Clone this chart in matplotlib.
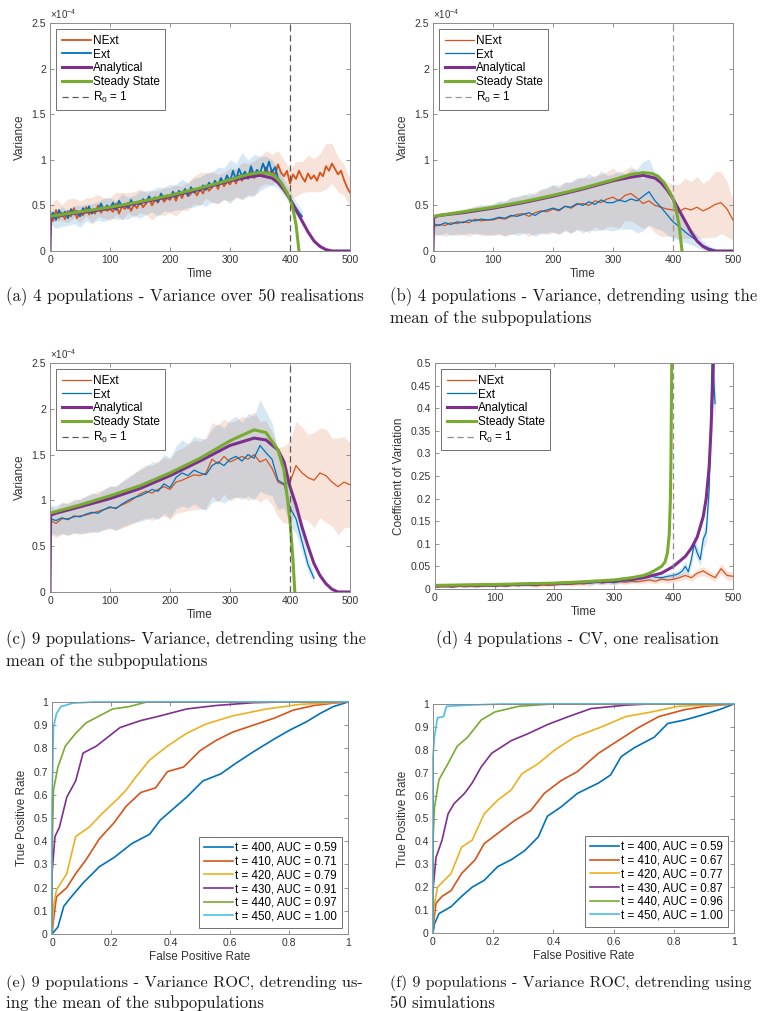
import numpy as np
import matplotlib.pyplot as plt
from matplotlib.ticker import FuncFormatter

plt.rcParams['font.family'] = ['Liberation Sans', 'DejaVu Sans']

# colori stile matlab
c_blu = '#0072BD'
c_ara = '#D95319'
c_gia = '#EDB120'
c_vio = '#7E2F8E'
c_ver = '#77AC30'
c_cia = '#4DBEEE'

# ---------------- dati (a) e (b): 4 popolazioni, varianza in unita' 1e-4 ----------------
t_a_next = np.arange(0, 501, 5)
var_a_next = [0.40, 0.33, 0.45, 0.36, 0.42, 0.35, 0.44, 0.38, 0.47, 0.36,
              0.43, 0.39, 0.48, 0.40, 0.45, 0.41, 0.50, 0.42, 0.47, 0.44,
              0.46, 0.43, 0.52, 0.41, 0.49, 0.46, 0.53, 0.44, 0.51, 0.47,
              0.55, 0.48, 0.52, 0.58, 0.50, 0.56, 0.53, 0.60, 0.54, 0.58,
              0.56, 0.62, 0.55, 0.64, 0.58, 0.66, 0.60, 0.63, 0.67, 0.61,
              0.68, 0.63, 0.72, 0.66, 0.70, 0.75, 0.68, 0.78, 0.71, 0.76,
              0.73, 0.80, 0.74, 0.83, 0.77, 0.86, 0.79, 0.88, 0.80, 0.84,
              0.87, 0.82, 0.92, 0.84, 0.89, 0.83, 0.95, 0.86, 0.82, 0.88,
              0.74, 0.84, 0.79, 0.88, 0.81, 0.76, 0.85, 0.79, 0.83, 0.77,
              0.86, 0.82, 0.93, 0.88, 0.96, 0.90, 0.84, 0.88, 0.78, 0.70,
              0.64]
t_a_ext = np.arange(0, 421, 5)
var_a_ext = [0.37, 0.42, 0.34, 0.45, 0.38, 0.43, 0.36, 0.46, 0.40, 0.44,
             0.38, 0.47, 0.42, 0.49, 0.41, 0.46, 0.44, 0.52, 0.45, 0.50,
             0.47, 0.53, 0.45, 0.55, 0.49, 0.52, 0.47, 0.56, 0.50, 0.54,
             0.51, 0.57, 0.53, 0.60, 0.55, 0.59, 0.54, 0.63, 0.57, 0.61,
             0.58, 0.65, 0.59, 0.66, 0.62, 0.68, 0.61, 0.70, 0.64, 0.67,
             0.66, 0.72, 0.67, 0.75, 0.70, 0.77, 0.72, 0.80, 0.74, 0.83,
             0.76, 0.88, 0.78, 0.90, 0.82, 0.87, 0.80, 0.93, 0.83, 0.89,
             0.85, 0.96, 0.87, 0.98, 0.86, 0.92, 0.80, 0.76, 0.70, 0.64,
             0.58, 0.52, 0.47, 0.42, 0.38]
t_a_band_next = np.arange(0, 501, 10)
hw_a_next = [0.10, 0.12, 0.09, 0.13, 0.11, 0.12, 0.10, 0.14, 0.12, 0.11,
             0.13, 0.12, 0.15, 0.11, 0.14, 0.13, 0.12, 0.16, 0.13, 0.15,
             0.14, 0.17, 0.13, 0.16, 0.15, 0.18, 0.14, 0.17, 0.16, 0.15,
             0.18, 0.16, 0.20, 0.17, 0.19, 0.16, 0.18, 0.17, 0.15, 0.18,
             0.16, 0.19, 0.17, 0.20, 0.18, 0.21, 0.25, 0.22, 0.19, 0.17, 0.15]
t_a_band_ext = np.arange(0, 421, 10)
hw_a_ext = [0.08, 0.09, 0.11, 0.08, 0.10, 0.12, 0.09, 0.11, 0.10, 0.13,
            0.11, 0.10, 0.14, 0.12, 0.11, 0.15, 0.13, 0.12, 0.16, 0.13,
            0.15, 0.14, 0.17, 0.13, 0.16, 0.15, 0.18, 0.16, 0.20, 0.17,
            0.24, 0.18, 0.26, 0.20, 0.23, 0.19, 0.17, 0.14, 0.11, 0.09,
            0.08, 0.07, 0.06]

t_b_next = np.arange(0, 501, 10)
var_b_next = [0.26, 0.29, 0.28, 0.31, 0.30, 0.32, 0.31, 0.35, 0.33, 0.34,
              0.34, 0.36, 0.35, 0.38, 0.40, 0.41, 0.38, 0.42, 0.44, 0.43,
              0.46, 0.44, 0.49, 0.47, 0.51, 0.52, 0.50, 0.55, 0.53, 0.57,
              0.59, 0.55, 0.61, 0.63, 0.58, 0.52, 0.55, 0.50, 0.48, 0.46,
              0.45, 0.43, 0.47, 0.45, 0.48, 0.44, 0.47, 0.51, 0.53, 0.46,
              0.34]
hw_b_next = [0.10, 0.11, 0.12, 0.13, 0.13, 0.14, 0.15, 0.15, 0.16, 0.17,
             0.17, 0.18, 0.19, 0.20, 0.20, 0.21, 0.22, 0.23, 0.24, 0.25,
             0.26, 0.25, 0.27, 0.28, 0.27, 0.29, 0.30, 0.28, 0.31, 0.30,
             0.32, 0.30, 0.28, 0.30, 0.29, 0.27, 0.28, 0.30, 0.32, 0.30,
             0.28, 0.30, 0.33, 0.31, 0.34, 0.30, 0.32, 0.36, 0.34, 0.30, 0.22]
t_b_ext = np.arange(0, 471, 10)
var_b_ext = [0.30, 0.28, 0.31, 0.29, 0.32, 0.31, 0.34, 0.33, 0.35, 0.34,
             0.35, 0.37, 0.36, 0.39, 0.38, 0.40, 0.42, 0.39, 0.43, 0.45,
             0.47, 0.45, 0.49, 0.48, 0.52, 0.50, 0.54, 0.51, 0.56, 0.53,
             0.53, 0.56, 0.54, 0.57, 0.55, 0.60, 0.65, 0.55, 0.48, 0.40,
             0.32, 0.27, 0.21, 0.16, 0.11, 0.06, 0.03, 0.01]
hw_b_ext = [0.10, 0.11, 0.11, 0.12, 0.13, 0.13, 0.14, 0.15, 0.16, 0.16,
            0.17, 0.18, 0.19, 0.20, 0.21, 0.21, 0.22, 0.23, 0.24, 0.25,
            0.26, 0.27, 0.26, 0.28, 0.29, 0.30, 0.31, 0.29, 0.32, 0.30,
            0.31, 0.32, 0.30, 0.33, 0.35, 0.38, 0.36, 0.30, 0.25, 0.22,
            0.18, 0.15, 0.12, 0.09, 0.07, 0.05, 0.03, 0.02]

# curve teoriche (4 popolazioni)
t_an4 = [0, 1, 10, 50, 100, 150, 200, 250, 300, 330, 350, 370, 380, 390, 400,
         410, 420, 430, 440, 450, 460, 470, 500]
an4 = [0, 0.37, 0.39, 0.42, 0.47, 0.53, 0.60, 0.68, 0.77, 0.81, 0.83, 0.80, 0.75,
       0.67, 0.57, 0.45, 0.33, 0.21, 0.11, 0.05, 0.015, 0.0, 0.0]
t_ss4 = [0, 50, 100, 150, 200, 250, 300, 330, 350, 365, 375, 385, 395, 400, 405,
         410, 415]
ss4 = [0.38, 0.43, 0.48, 0.54, 0.61, 0.69, 0.78, 0.84, 0.86, 0.85, 0.82, 0.75,
       0.64, 0.57, 0.46, 0.29, 0.0]

# ---------------- dati (c): 9 popolazioni ----------------
t_c_next = np.arange(0, 501, 10)
var_c_next = [0.78, 0.75, 0.80, 0.80, 0.82, 0.83, 0.84, 0.86, 0.88, 0.90,
              0.92, 0.92, 0.95, 0.98, 1.02, 1.07, 1.10, 1.08, 1.12, 1.15,
              1.12, 1.20, 1.22, 1.25, 1.28, 1.27, 1.30, 1.45, 1.40, 1.48,
              1.42, 1.45, 1.48, 1.45, 1.50, 1.42, 1.45, 1.35, 1.20, 1.17,
              1.20, 1.38, 1.30, 1.25, 1.22, 1.30, 1.27, 1.20, 1.15, 1.20, 1.17]
hw_c_next = [0.15, 0.16, 0.17, 0.18, 0.18, 0.19, 0.20, 0.21, 0.22, 0.22,
             0.23, 0.24, 0.25, 0.26, 0.27, 0.28, 0.29, 0.30, 0.31, 0.32,
             0.33, 0.34, 0.35, 0.36, 0.38, 0.37, 0.39, 0.40, 0.42, 0.41,
             0.43, 0.42, 0.44, 0.45, 0.47, 0.44, 0.42, 0.40, 0.38, 0.42,
             0.45, 0.48, 0.50, 0.47, 0.52, 0.49, 0.51, 0.48, 0.53, 0.50, 0.46]
t_c_ext = np.arange(0, 441, 10)
var_c_ext = [0.80, 0.78, 0.81, 0.79, 0.83, 0.82, 0.85, 0.87, 0.86, 0.90,
             0.93, 0.91, 0.96, 1.00, 1.03, 1.05, 1.08, 1.12, 1.10, 1.18,
             1.14, 1.25, 1.30, 1.27, 1.33, 1.30, 1.28, 1.38, 1.42, 1.38,
             1.45, 1.48, 1.43, 1.50, 1.46, 1.60, 1.52, 1.45, 1.22, 1.18,
             0.92, 0.80, 0.55, 0.30, 0.15]
hw_c_ext = [0.15, 0.16, 0.17, 0.17, 0.18, 0.19, 0.20, 0.21, 0.21, 0.22,
            0.23, 0.24, 0.25, 0.26, 0.27, 0.28, 0.29, 0.30, 0.31, 0.32,
            0.33, 0.34, 0.36, 0.35, 0.37, 0.38, 0.39, 0.40, 0.42, 0.41,
            0.43, 0.44, 0.42, 0.45, 0.46, 0.50, 0.45, 0.40, 0.32, 0.26,
            0.20, 0.16, 0.12, 0.08, 0.05]
t_an9 = [0, 1, 10, 50, 100, 150, 200, 250, 300, 340, 360, 380, 390, 400, 410,
         420, 430, 440, 450, 460, 470, 480, 500]
an9 = [0, 0.84, 0.86, 0.93, 1.02, 1.13, 1.27, 1.43, 1.60, 1.68, 1.66, 1.55, 1.42,
       1.15, 0.95, 0.71, 0.50, 0.31, 0.18, 0.09, 0.03, 0.0, 0.0]
t_ss9 = [0, 50, 100, 150, 200, 250, 300, 340, 360, 380, 390, 400, 405, 408]
ss9 = [0.86, 0.95, 1.05, 1.16, 1.30, 1.46, 1.65, 1.77, 1.74, 1.55, 1.33, 0.78,
       0.35, 0.0]

# ---------------- dati (d): coefficiente di variazione ----------------
t_d_next = np.arange(0, 501, 10)
cv_d_next = [0.004, 0.005, 0.005, 0.004, 0.006, 0.005, 0.006, 0.005, 0.006, 0.007,
             0.006, 0.007, 0.006, 0.008, 0.007, 0.010, 0.008, 0.007, 0.009, 0.008,
             0.009, 0.010, 0.011, 0.010, 0.012, 0.011, 0.014, 0.018, 0.013, 0.015,
             0.014, 0.016, 0.015, 0.017, 0.016, 0.018, 0.020, 0.017, 0.022, 0.020,
             0.021, 0.025, 0.030, 0.025, 0.035, 0.040, 0.032, 0.025, 0.045, 0.030,
             0.028]
hw_d_next = [0.002, 0.002, 0.002, 0.002, 0.002, 0.002, 0.002, 0.002, 0.002, 0.002,
             0.002, 0.002, 0.002, 0.002, 0.003, 0.003, 0.003, 0.003, 0.003, 0.003,
             0.003, 0.003, 0.003, 0.004, 0.004, 0.004, 0.008, 0.006, 0.004, 0.004,
             0.005, 0.005, 0.005, 0.005, 0.005, 0.006, 0.006, 0.006, 0.007, 0.007,
             0.007, 0.008, 0.008, 0.008, 0.009, 0.010, 0.009, 0.008, 0.012, 0.010,
             0.009]
t_d_ext = [0, 10, 20, 30, 40, 50, 60, 70, 80, 90, 100, 110, 120, 130, 140, 150,
           160, 170, 180, 190, 200, 210, 220, 230, 240, 250, 260, 270, 280, 290,
           300, 310, 320, 330, 340, 350, 360, 370, 380, 390, 400, 405, 410, 415,
           420, 425, 430, 435, 440, 445, 450, 455, 460, 465, 470]
cv_d_ext = [0.005, 0.006, 0.006, 0.005, 0.007, 0.006, 0.007, 0.006, 0.008, 0.007,
            0.007, 0.008, 0.007, 0.009, 0.008, 0.008, 0.010, 0.009, 0.011, 0.010,
            0.010, 0.012, 0.011, 0.013, 0.012, 0.014, 0.013, 0.015, 0.014, 0.016,
            0.014, 0.017, 0.018, 0.019, 0.021, 0.024, 0.030, 0.026, 0.025, 0.028,
            0.030, 0.032, 0.035, 0.040, 0.050, 0.038, 0.065, 0.100, 0.080, 0.065,
            0.110, 0.125, 0.220, 0.520, 0.410]
hw_d_ext = [0.002, 0.002, 0.002, 0.002, 0.002, 0.002, 0.002, 0.002, 0.002, 0.002,
            0.002, 0.002, 0.002, 0.002, 0.002, 0.002, 0.003, 0.003, 0.003, 0.003,
            0.003, 0.003, 0.003, 0.003, 0.003, 0.003, 0.004, 0.004, 0.004, 0.004,
            0.004, 0.004, 0.005, 0.005, 0.005, 0.006, 0.008, 0.006, 0.006, 0.007,
            0.008, 0.008, 0.009, 0.010, 0.012, 0.010, 0.014, 0.018, 0.016, 0.014,
            0.020, 0.024, 0.035, 0.050, 0.045]
t_d_an = [0, 100, 200, 300, 350, 380, 400, 420, 430, 440, 450, 455, 460, 463, 466,
          468]
cv_d_an = [0.007, 0.009, 0.012, 0.018, 0.025, 0.035, 0.05, 0.072, 0.09, 0.115,
           0.16, 0.2, 0.27, 0.35, 0.45, 0.55]
t_d_ss = [0, 100, 200, 250, 300, 330, 350, 360, 370, 380, 386, 390, 393, 395, 396,
          397.5]
cv_d_ss = [0.008, 0.01, 0.013, 0.016, 0.02, 0.025, 0.03, 0.035, 0.042, 0.05,
           0.06, 0.08, 0.12, 0.2, 0.3, 0.55]

# ---------------- dati ROC (e) ----------------
e400_x = [0, 0.02, 0.04, 0.065, 0.105, 0.16, 0.21, 0.27, 0.33, 0.365, 0.41, 0.455,
          0.51, 0.57, 0.62, 0.68, 0.75, 0.805, 0.86, 0.905, 0.95, 1]
e400_y = [0, 0.03, 0.12, 0.16, 0.22, 0.29, 0.33, 0.39, 0.43, 0.49, 0.54, 0.59,
          0.66, 0.69, 0.735, 0.785, 0.84, 0.88, 0.915, 0.95, 0.98, 1]
e410_x = [0, 0.005, 0.015, 0.05, 0.08, 0.115, 0.16, 0.21, 0.25, 0.3, 0.35, 0.39,
          0.445, 0.5, 0.555, 0.61, 0.68, 0.75, 0.815, 0.885, 0.95, 1]
e410_y = [0, 0.06, 0.16, 0.2, 0.26, 0.32, 0.41, 0.48, 0.55, 0.61, 0.63, 0.7, 0.72,
          0.79, 0.835, 0.87, 0.9, 0.93, 0.965, 0.985, 0.995, 1]
e420_x = [0, 0.005, 0.015, 0.05, 0.08, 0.125, 0.17, 0.22, 0.25, 0.285, 0.33, 0.39,
          0.455, 0.52, 0.61, 0.725, 0.84, 1]
e420_y = [0, 0.12, 0.19, 0.26, 0.42, 0.46, 0.52, 0.58, 0.62, 0.68, 0.75, 0.81,
          0.865, 0.905, 0.94, 0.97, 0.99, 1]
e430_x = [0, 0, 0.01, 0.025, 0.05, 0.08, 0.105, 0.15, 0.195, 0.23, 0.3, 0.365,
          0.455, 0.555, 0.68, 0.78, 1]
e430_y = [0, 0.26, 0.42, 0.46, 0.59, 0.66, 0.78, 0.81, 0.855, 0.89, 0.92, 0.94,
          0.97, 0.985, 0.997, 1, 1]
e440_x = [0, 0, 0.005, 0.02, 0.045, 0.08, 0.115, 0.16, 0.205, 0.26, 0.32, 1]
e440_y = [0, 0.33, 0.62, 0.72, 0.81, 0.865, 0.91, 0.94, 0.97, 0.98, 1, 1]
e450_x = [0, 0, 0.005, 0.015, 0.03, 0.07, 0.14, 1]
e450_y = [0, 0.55, 0.89, 0.95, 0.98, 0.995, 1, 1]

# ---------------- dati ROC (f) ----------------
f400_x = [0, 0.005, 0.02, 0.06, 0.095, 0.13, 0.17, 0.215, 0.26, 0.305, 0.35, 0.38,
          0.425, 0.48, 0.55, 0.59, 0.625, 0.67, 0.735, 0.78, 0.835, 0.89, 0.95, 1]
f400_y = [0, 0.04, 0.085, 0.115, 0.16, 0.2, 0.23, 0.29, 0.32, 0.36, 0.42, 0.51,
          0.55, 0.61, 0.655, 0.69, 0.77, 0.81, 0.855, 0.915, 0.93, 0.95, 0.975, 1]
f410_x = [0, 0.003, 0.01, 0.03, 0.06, 0.095, 0.14, 0.17, 0.215, 0.27, 0.325, 0.37,
          0.425, 0.48, 0.55, 0.615, 0.68, 0.75, 0.835, 0.905, 1]
f410_y = [0, 0.055, 0.13, 0.16, 0.185, 0.26, 0.32, 0.39, 0.435, 0.49, 0.535, 0.61,
          0.665, 0.705, 0.785, 0.84, 0.895, 0.945, 0.975, 0.99, 1]
f420_x = [0, 0.003, 0.015, 0.06, 0.095, 0.13, 0.17, 0.215, 0.26, 0.295, 0.35,
          0.405, 0.47, 0.56, 0.64, 0.725, 0.815, 1]
f420_y = [0, 0.115, 0.2, 0.26, 0.375, 0.405, 0.52, 0.58, 0.625, 0.695, 0.74, 0.8,
          0.855, 0.9, 0.945, 0.965, 0.99, 1]
f430_x = [0, 0, 0.01, 0.03, 0.05, 0.07, 0.105, 0.13, 0.16, 0.195, 0.26, 0.315,
          0.38, 0.45, 0.525, 0.64, 0.715, 1]
f430_y = [0, 0.19, 0.33, 0.405, 0.52, 0.565, 0.61, 0.655, 0.725, 0.785, 0.84,
          0.87, 0.91, 0.945, 0.98, 0.995, 1, 1]
f440_x = [0, 0, 0.005, 0.02, 0.05, 0.08, 0.115, 0.16, 0.205, 0.285, 0.395, 1]
f440_y = [0, 0.405, 0.55, 0.67, 0.74, 0.815, 0.855, 0.93, 0.965, 0.99, 1, 1]
f450_x = [0, 0, 0.005, 0.015, 0.035, 0.045, 0.115, 0.225, 1]
f450_y = [0, 0.77, 0.86, 0.94, 0.945, 0.99, 0.995, 1, 1]

roc_labels = ['t = 400', 't = 410', 't = 420', 't = 430', 't = 440', 't = 450']
auc_e = ['0.59', '0.71', '0.79', '0.91', '0.97', '1.00']
auc_f = ['0.59', '0.67', '0.77', '0.87', '0.96', '1.00']
roc_col = [c_blu, c_ara, c_gia, c_vio, c_ver, c_cia]

# ---------------- figura ----------------
W, H = 771, 1011
fig = plt.figure(figsize=(W / 100, H / 100), dpi=100)


def box(l, t, r, b):
    return [l / W, 1 - b / H, (r - l) / W, (b - t) / H]


def stile(ax, xt, yt, xlab, ylab):
    ax.set_xlim(xt[0], xt[-1])
    ax.set_ylim(yt[0], yt[-1])
    ax.set_xticks(xt)
    ax.set_yticks(yt)
    fmt = FuncFormatter(lambda v, p: f'{v:g}')
    ax.xaxis.set_major_formatter(fmt)
    ax.yaxis.set_major_formatter(fmt)
    ax.tick_params(direction='in', top=True, right=True, length=3, width=0.6,
                   colors='0.5', labelcolor='0.2', labelsize=7.5, pad=3)
    for s in ax.spines.values():
        s.set_color('0.55')
        s.set_linewidth(0.7)
    ax.set_xlabel(xlab, fontsize=8.5, color='0.2', labelpad=2)
    ax.set_ylabel(ylab, fontsize=8.5, color='0.2', labelpad=4)


def legenda(ax, loc, fs=8.5):
    leg = ax.legend(loc=loc, fontsize=fs, fancybox=False, framealpha=1,
                    edgecolor='0.35', handlelength=2.5, handletextpad=0.15,
                    labelspacing=0.15, borderpad=0.45, borderaxespad=0.55)
    leg.get_frame().set_linewidth(0.6)


def pannello_var(ax, t_n, v_n, hw_n, tb_n, t_e, v_e, hw_e, tb_e, t_an, an, t_ss, ss,
                 lw, dash_col):
    v_n = np.array(v_n)
    v_e = np.array(v_e)
    # bande
    ax.fill_between(tb_n, np.interp(tb_n, t_n, v_n) - np.array(hw_n),
                    np.interp(tb_n, t_n, v_n) + np.array(hw_n),
                    color=c_ara, alpha=0.16, lw=0)
    ax.fill_between(tb_e, np.interp(tb_e, t_e, v_e) - np.array(hw_e),
                    np.interp(tb_e, t_e, v_e) + np.array(hw_e),
                    color=c_blu, alpha=0.16, lw=0)
    ax.plot(t_n, v_n, color=c_ara, lw=lw, label='NExt')
    ax.plot(t_e, v_e, color=c_blu, lw=lw, label='Ext')
    ax.plot(t_an, an, color=c_vio, lw=2.2, label='Analytical')
    ax.plot(t_ss, ss, color=c_ver, lw=2.2, label='Steady State')
    ax.axvline(400, color=dash_col, lw=0.9, ls=(0, (5, 3)),
               label=r'$\mathregular{R_0}$ = 1')
    stile(ax, [0, 100, 200, 300, 400, 500], [0, 0.5, 1, 1.5, 2, 2.5], 'Time', 'Variance')
    ax.text(0.0, 1.008, r'$\mathregular{\times10^{-4}}$', transform=ax.transAxes,
            fontsize=7, color='0.2', ha='left', va='bottom')
    legenda(ax, 'upper left')


# (a)
ax_a = fig.add_axes(box(50, 23, 350, 251))
pannello_var(ax_a, t_a_next, var_a_next, hw_a_next, t_a_band_next,
             t_a_ext, var_a_ext, hw_a_ext, t_a_band_ext, t_an4, an4, t_ss4, ss4,
             1.3, '0.35')

# (b)
ax_b = fig.add_axes(box(433, 23, 733, 251))
pannello_var(ax_b, t_b_next, var_b_next, hw_b_next, t_b_next,
             t_b_ext, var_b_ext, hw_b_ext, t_b_ext, t_an4, an4, t_ss4, ss4,
             0.9, '0.6')

# (c)
ax_c = fig.add_axes(box(50, 363, 350, 592))
pannello_var(ax_c, t_c_next, var_c_next, hw_c_next, t_c_next,
             t_c_ext, var_c_ext, hw_c_ext, t_c_ext, t_an9, an9, t_ss9, ss9,
             0.9, '0.35')

# (d)
ax_d = fig.add_axes(box(435, 363, 733, 589))
ax_d.fill_between(t_d_next, np.array(cv_d_next) - np.array(hw_d_next),
                  np.array(cv_d_next) + np.array(hw_d_next), color=c_ara, alpha=0.16, lw=0)
ax_d.fill_between(t_d_ext, np.array(cv_d_ext) - np.array(hw_d_ext),
                  np.array(cv_d_ext) + np.array(hw_d_ext), color=c_blu, alpha=0.16, lw=0)
ax_d.plot(t_d_next, cv_d_next, color=c_ara, lw=0.9, label='NExt')
ax_d.plot(t_d_ext, cv_d_ext, color=c_blu, lw=0.9, label='Ext')
ax_d.plot(t_d_an, cv_d_an, color=c_vio, lw=2.2, label='Analytical')
ax_d.plot(t_d_ss, cv_d_ss, color=c_ver, lw=2.2, label='Steady State')
ax_d.axvline(400, color='0.55', lw=0.9, ls=(0, (5, 3)), label=r'$\mathregular{R_0}$ = 1')
stile(ax_d, [0, 100, 200, 300, 400, 500],
      [0, 0.05, 0.1, 0.15, 0.2, 0.25, 0.3, 0.35, 0.4, 0.45, 0.5],
      'Time', 'Coefficient of Variation')
legenda(ax_d, 'upper left')

# (e) e (f) ROC
roc_e = [(e400_x, e400_y), (e410_x, e410_y), (e420_x, e420_y),
         (e430_x, e430_y), (e440_x, e440_y), (e450_x, e450_y)]
roc_f = [(f400_x, f400_y), (f410_x, f410_y), (f420_x, f420_y),
         (f430_x, f430_y), (f440_x, f440_y), (f450_x, f450_y)]
for pos, curve, auc in [((52, 702, 348, 934), roc_e, auc_e),
                        ((433, 704, 734, 933), roc_f, auc_f)]:
    ax = fig.add_axes(box(*pos))
    for (xx, yy), lab, a, col in zip(curve, roc_labels, auc, roc_col):
        ax.plot(xx, yy, color=col, lw=1.2, label=f'{lab}, AUC = {a}', clip_on=False)
    stile(ax, [0, 0.2, 0.4, 0.6, 0.8, 1], [0, 0.1, 0.2, 0.3, 0.4, 0.5, 0.6, 0.7, 0.8, 0.9, 1],
          'False Positive Rate', 'True Positive Rate')
    legenda(ax, 'lower right', fs=8.3)

# didascalie
cap = dict(family='cmr10', va='center', color='0.1')
fig.text(6 / W, 1 - 297 / H, '(a) 4 populations - Variance over 50 realisations',
         fontsize=12.2, **cap)
fig.text(390 / W, 1 - 297 / H, '(b) 4 populations - Variance, detrending using the',
         fontsize=12.0, **cap)
fig.text(390 / W, 1 - 318 / H, 'mean of the subpopulations', fontsize=12.0, **cap)
fig.text(6 / W, 1 - 640 / H, '(c) 9 populations- Variance, detrending using the',
         fontsize=12.0, **cap)
fig.text(6 / W, 1 - 661 / H, 'mean of the subpopulations', fontsize=12.0, **cap)
fig.text(578 / W, 1 - 640 / H, '(d) 4 populations - CV, one realisation', ha='center',
         fontsize=12.0, **cap)
fig.text(6 / W, 1 - 983 / H, '(e) 9 populations - Variance ROC, detrending us-',
         fontsize=11.8, **cap)
fig.text(6 / W, 1 - 1003 / H, 'ing the mean of the subpopulations', fontsize=12.0, **cap)
fig.text(390 / W, 1 - 983 / H, '(f) 9 populations - Variance ROC, detrending using',
         fontsize=11.5, **cap)
fig.text(390 / W, 1 - 1003 / H, '50 simulations', fontsize=12.0, **cap)

fig.savefig('out.png', dpi=100)
